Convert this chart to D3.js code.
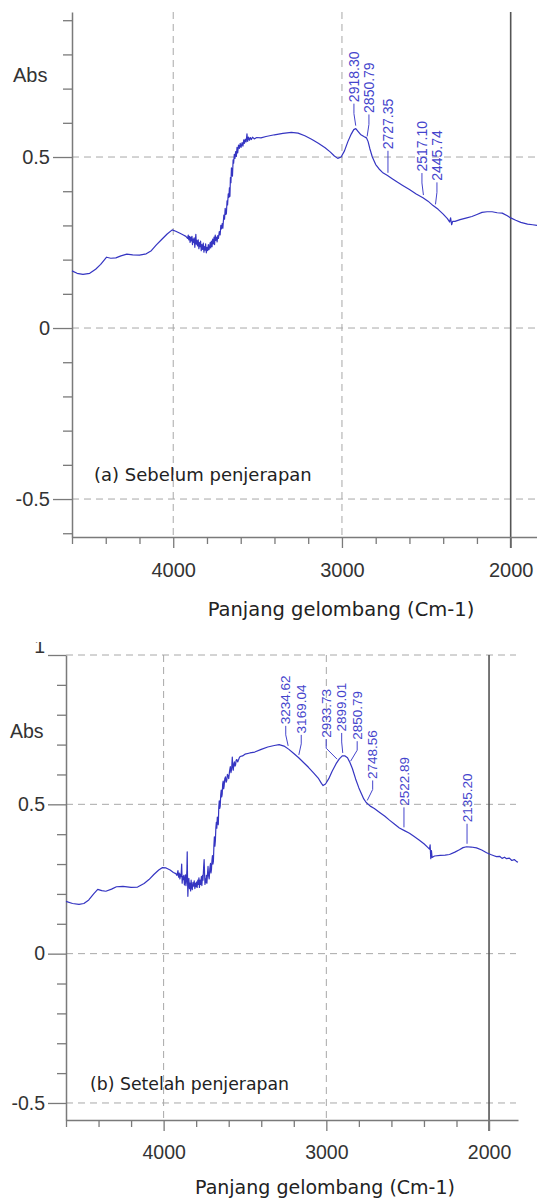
<!DOCTYPE html>
<html>
<head>
<meta charset="utf-8">
<script src="https://cdn.jsdelivr.net/npm/d3@7"></script>
<style>
  html, body { margin: 0; padding: 0; background: #fff; }
  svg { display: block; }
</style>
</head>
<body>
<div id="chart"></div>
<script>
// Wavenumber ticks (cm-1)
const waveMajor = [4000, 3000, 2000];
const waveMinor = [4600, 4400, 4200, 3800, 3600, 3400, 3200, 2800, 2600, 2400, 2200];

// Absorbance ticks
const absMajorTop = [-0.5, 0, 0.5];
const absMinorTop = [-0.6, -0.4, -0.3, -0.2, -0.1, 0.1, 0.2, 0.3, 0.4, 0.6, 0.7, 0.8, 0.9];
const absMajorBottom = [-0.5, 0, 0.5, 1];
const absMinorBottom = [-0.4, -0.3, -0.2, -0.1, 0.1, 0.2, 0.3, 0.4, 0.6, 0.7, 0.8, 0.9];

// (a) before adsorption: [wavenumber, absorbance]
const spectrumBefore = [
  [4600, 0.167], [4570, 0.160], [4535, 0.157], [4495, 0.160], [4460, 0.172], [4430, 0.186],
  [4395, 0.207], [4370, 0.204], [4340, 0.205], [4310, 0.211], [4275, 0.216], [4240, 0.214],
  [4200, 0.213], [4160, 0.217], [4130, 0.226], [4100, 0.243], [4070, 0.258], [4036, 0.275],
  [4006, 0.287], [3985, 0.283], [3960, 0.277], [3940, 0.272], [3925, 0.268], [3915, 0.262],
  [3911, 0.272], [3908, 0.258], [3904, 0.268], [3900, 0.250], [3896, 0.266], [3893, 0.255],
  [3889, 0.268], [3886, 0.244], [3883, 0.260], [3880, 0.250], [3876, 0.264], [3872, 0.236],
  [3869, 0.256], [3866, 0.274], [3863, 0.245], [3860, 0.256], [3856, 0.240], [3852, 0.258],
  [3848, 0.232], [3845, 0.250], [3841, 0.238], [3838, 0.254], [3834, 0.226], [3830, 0.244],
  [3826, 0.230], [3822, 0.248], [3818, 0.222], [3815, 0.238], [3811, 0.228], [3808, 0.246],
  [3804, 0.220], [3800, 0.236], [3796, 0.226], [3792, 0.244], [3788, 0.229], [3785, 0.236],
  [3781, 0.250], [3778, 0.234], [3774, 0.254], [3770, 0.238], [3766, 0.260], [3762, 0.246],
  [3758, 0.266], [3755, 0.244], [3751, 0.272], [3748, 0.256], [3744, 0.266], [3740, 0.252],
  [3736, 0.270], [3732, 0.262], [3727, 0.282], [3722, 0.272], [3718, 0.300], [3714, 0.290],
  [3710, 0.305], [3706, 0.292], [3700, 0.330], [3696, 0.318], [3692, 0.350], [3688, 0.332],
  [3685, 0.335], [3681, 0.372], [3678, 0.360], [3674, 0.392], [3670, 0.382], [3667, 0.410],
  [3664, 0.385], [3661, 0.440], [3658, 0.425], [3655, 0.468], [3652, 0.462], [3649, 0.444],
  [3645, 0.492], [3642, 0.482], [3638, 0.508], [3634, 0.496], [3630, 0.516], [3626, 0.502],
  [3622, 0.528], [3618, 0.512], [3613, 0.535], [3608, 0.525], [3603, 0.540], [3598, 0.528],
  [3592, 0.542], [3587, 0.532], [3582, 0.550], [3578, 0.540], [3573, 0.552], [3568, 0.544],
  [3563, 0.568], [3559, 0.546], [3554, 0.558], [3548, 0.549], [3543, 0.557], [3537, 0.551],
  [3530, 0.558], [3520, 0.553], [3505, 0.557], [3480, 0.556], [3450, 0.560], [3400, 0.565],
  [3350, 0.569], [3300, 0.572], [3260, 0.570], [3220, 0.562], [3180, 0.552], [3140, 0.540],
  [3100, 0.527], [3070, 0.515], [3045, 0.503], [3025, 0.496], [3005, 0.500], [2985, 0.518],
  [2965, 0.545], [2945, 0.567], [2930, 0.580], [2918, 0.583], [2905, 0.575], [2890, 0.566],
  [2870, 0.560], [2855, 0.556], [2845, 0.545], [2835, 0.525], [2820, 0.500], [2800, 0.478],
  [2780, 0.465], [2760, 0.455], [2730, 0.446], [2700, 0.436], [2670, 0.426], [2640, 0.417],
  [2600, 0.405], [2560, 0.392], [2520, 0.381], [2490, 0.371], [2460, 0.358], [2430, 0.347],
  [2400, 0.333], [2375, 0.320], [2362, 0.310], [2356, 0.322], [2350, 0.302], [2344, 0.312],
  [2330, 0.312], [2300, 0.317], [2260, 0.322], [2230, 0.326], [2200, 0.332], [2170, 0.338],
  [2140, 0.340], [2110, 0.340], [2080, 0.337], [2050, 0.336], [2020, 0.328], [2000, 0.322],
  [1970, 0.315], [1940, 0.309], [1900, 0.304], [1870, 0.302], [1844, 0.300]
];

// (b) after adsorption: [wavenumber, absorbance]
const spectrumAfter = [
  [4600, 0.175], [4560, 0.168], [4520, 0.165], [4490, 0.168], [4460, 0.180], [4430, 0.200],
  [4405, 0.215], [4380, 0.211], [4355, 0.209], [4320, 0.216], [4290, 0.224], [4250, 0.225],
  [4200, 0.222], [4160, 0.223], [4120, 0.235], [4090, 0.248], [4060, 0.265], [4030, 0.280],
  [4009, 0.288], [3985, 0.287], [3960, 0.280], [3940, 0.272], [3925, 0.268], [3918, 0.262],
  [3912, 0.278], [3908, 0.256], [3904, 0.270], [3900, 0.250], [3896, 0.266], [3893, 0.258],
  [3889, 0.300], [3886, 0.236], [3883, 0.258], [3880, 0.248], [3876, 0.262], [3872, 0.230],
  [3869, 0.250], [3866, 0.264], [3863, 0.228], [3860, 0.242], [3857, 0.280], [3855, 0.341],
  [3853, 0.250], [3851, 0.192], [3848, 0.238], [3845, 0.252], [3841, 0.218], [3838, 0.236],
  [3834, 0.210], [3831, 0.246], [3827, 0.222], [3824, 0.214], [3820, 0.238], [3816, 0.226],
  [3812, 0.244], [3808, 0.218], [3804, 0.236], [3800, 0.224], [3797, 0.240], [3794, 0.222],
  [3790, 0.246], [3787, 0.232], [3783, 0.254], [3780, 0.222], [3776, 0.246], [3772, 0.232],
  [3768, 0.258], [3765, 0.228], [3761, 0.262], [3758, 0.246], [3754, 0.290], [3751, 0.315],
  [3748, 0.262], [3746, 0.232], [3743, 0.250], [3740, 0.238], [3737, 0.262], [3734, 0.236],
  [3730, 0.270], [3727, 0.292], [3724, 0.262], [3720, 0.250], [3716, 0.285], [3712, 0.302],
  [3709, 0.270], [3706, 0.282], [3703, 0.312], [3700, 0.328], [3697, 0.300], [3694, 0.310],
  [3691, 0.360], [3688, 0.391], [3685, 0.360], [3682, 0.378], [3679, 0.420], [3676, 0.440],
  [3673, 0.420], [3670, 0.457], [3667, 0.446], [3664, 0.432], [3661, 0.490], [3658, 0.512],
  [3655, 0.486], [3652, 0.495], [3649, 0.532], [3646, 0.548], [3643, 0.525], [3640, 0.534],
  [3637, 0.568], [3634, 0.578], [3631, 0.552], [3628, 0.562], [3624, 0.586], [3620, 0.592],
  [3616, 0.574], [3612, 0.580], [3608, 0.600], [3604, 0.596], [3600, 0.586], [3595, 0.610],
  [3590, 0.626], [3586, 0.606], [3582, 0.618], [3578, 0.658], [3575, 0.628], [3572, 0.614],
  [3568, 0.636], [3565, 0.642], [3561, 0.628], [3558, 0.632], [3554, 0.648], [3550, 0.650],
  [3545, 0.642], [3540, 0.648], [3535, 0.656], [3530, 0.660], [3515, 0.662], [3500, 0.668],
  [3470, 0.672], [3440, 0.675], [3400, 0.684], [3360, 0.692], [3320, 0.697], [3290, 0.700],
  [3260, 0.695], [3230, 0.684], [3200, 0.670], [3170, 0.656], [3140, 0.640], [3110, 0.624],
  [3080, 0.606], [3050, 0.588], [3030, 0.570], [3020, 0.563], [3005, 0.568], [2985, 0.586],
  [2965, 0.610], [2940, 0.636], [2920, 0.652], [2902, 0.662], [2885, 0.662], [2870, 0.656],
  [2855, 0.640], [2840, 0.620], [2820, 0.585], [2800, 0.555], [2785, 0.536], [2770, 0.518],
  [2755, 0.506], [2730, 0.494], [2705, 0.486], [2670, 0.472], [2640, 0.460], [2612, 0.447],
  [2580, 0.433], [2551, 0.421], [2520, 0.412], [2489, 0.403], [2460, 0.392], [2428, 0.380],
  [2400, 0.368], [2375, 0.355], [2366, 0.350], [2362, 0.364], [2358, 0.318], [2354, 0.345],
  [2350, 0.322], [2335, 0.327], [2300, 0.329], [2270, 0.330], [2243, 0.332], [2210, 0.340],
  [2182, 0.348], [2160, 0.355], [2138, 0.358], [2110, 0.357], [2077, 0.354], [2045, 0.347],
  [2015, 0.338], [1990, 0.332], [1970, 0.328], [1954, 0.325], [1935, 0.326], [1920, 0.319],
  [1905, 0.323], [1892, 0.318], [1875, 0.320], [1860, 0.312], [1845, 0.315], [1830, 0.308],
  [1822, 0.306]
];

// Marked peaks
const peaksBefore = [2918.30, 2850.79, 2727.35, 2517.10, 2445.74];
const peaksAfter = [3234.62, 3169.04, 2933.73, 2899.01, 2850.79, 2748.56, 2522.89, 2135.20];

const xTitle = 'Panjang gelombang (Cm-1)';
const yTitle = 'Abs';

const W = 537, H = 1198;
const svg = d3.select('#chart').append('svg')
  .attr('width', W)
  .attr('height', H)
  .attr('viewBox', `0 0 ${W} ${H}`);

const tickFont = "'Liberation Sans', Arial, sans-serif";
const textFont = "'DejaVu Sans', Verdana, sans-serif";
const lineColor = '#3535c2';
const peakColor = '#4444cc';

// spread label x positions so they keep a minimum gap
function spreadLabels(xs, gap) {
  let groups = xs.map(v => ({ xs: [v], start: v }));
  let merged = true;
  while (merged) {
    merged = false;
    for (let i = 0; i < groups.length - 1; i++) {
      const a = groups[i], b = groups[i + 1];
      const aEnd = a.start + (a.xs.length - 1) * gap;
      if (b.start - aEnd < gap) {
        const all = a.xs.concat(b.xs);
        groups.splice(i, 2, { xs: all, start: d3.mean(all) - (all.length - 1) * gap / 2 });
        merged = true;
        break;
      }
    }
  }
  return groups.flatMap(g => g.xs.map((_, j) => g.start + j * gap));
}

function drawPanel(p) {
  const g = svg.append('g');

  if (p.clipTop != null) {
    const id = 'clip-' + p.name;
    svg.append('clipPath').attr('id', id)
      .append('rect').attr('x', 0).attr('y', p.clipTop).attr('width', W).attr('height', H - p.clipTop);
    g.attr('clip-path', `url(#${id})`);
  }

  const x = d3.scaleLinear().domain(p.xDomain).range([p.left, p.right]);
  const y = d3.scaleLinear().domain(p.yDomain).range([p.bottom, p.top]);

  // dashed grid
  g.append('g').selectAll('line')
    .data(waveMajor.filter(d => d !== 2000))
    .join('line')
    .attr('x1', d => x(d)).attr('x2', d => x(d))
    .attr('y1', p.top).attr('y2', p.bottom)
    .attr('stroke', '#a8a8a8').attr('stroke-width', 1)
    .attr('stroke-dasharray', '7,5');

  g.append('g').selectAll('line')
    .data(p.absMajor)
    .join('line')
    .attr('x1', p.left).attr('x2', p.gridRight)
    .attr('y1', d => y(d)).attr('y2', d => y(d))
    .attr('stroke', '#a8a8a8').attr('stroke-width', 1)
    .attr('stroke-dasharray', '7,5');

  // solid line at 2000
  g.append('line')
    .attr('x1', x(2000)).attr('x2', x(2000))
    .attr('y1', p.top).attr('y2', p.bottom + 11)
    .attr('stroke', '#555').attr('stroke-width', 1.6);

  const styleAxis = sel => {
    sel.select('.domain').attr('stroke', '#7a7a7a').attr('stroke-width', 1.5);
    sel.selectAll('.tick line').attr('stroke', '#7a7a7a').attr('stroke-width', 1.3);
    sel.selectAll('text')
      .attr('fill', '#333')
      .style('font-family', tickFont)
      .style('font-size', p.tickSize + 'px');
  };

  // Y axis
  g.append('g')
    .attr('transform', `translate(${p.left},0)`)
    .call(d3.axisLeft(y).tickValues(p.absMinor).tickSize(9).tickSizeOuter(0).tickFormat(''))
    .call(styleAxis);

  const yAx = g.append('g')
    .attr('transform', `translate(${p.left},0)`)
    .call(d3.axisLeft(y).tickValues(p.absMajor).tickSize(p.yMajorLen).tickSizeOuter(0)
      .tickPadding(3).tickFormat(d => String(d)))
    .call(styleAxis);
  yAx.select('.domain').remove();
  yAx.selectAll('.tick').filter(d => d === 1).select('text').attr('dy', '-0.12em');

  // X axis
  g.append('g')
    .attr('transform', `translate(0,${p.bottom})`)
    .call(d3.axisBottom(x).tickValues(waveMinor).tickSize(7).tickSizeOuter(0).tickFormat(''))
    .call(styleAxis);

  const xAx = g.append('g')
    .attr('transform', `translate(0,${p.bottom})`)
    .call(d3.axisBottom(x).tickValues(waveMajor).tickSize(11).tickSizeOuter(0)
      .tickPadding(p.xPad).tickFormat(d => String(d)))
    .call(styleAxis);
  xAx.select('.domain').remove();

  // axis titles
  g.append('text')
    .attr('x', p.absX).attr('y', p.absY)
    .attr('fill', '#333')
    .style('font-family', tickFont)
    .style('font-size', p.tickSize + 'px')
    .text(yTitle);

  g.append('text')
    .attr('x', p.titleX).attr('y', p.titleY)
    .attr('text-anchor', 'middle')
    .attr('fill', '#222')
    .style('font-family', textFont)
    .style('font-size', p.titleSize + 'px')
    .text(xTitle);

  g.append('text')
    .attr('x', p.noteX).attr('y', p.noteY)
    .attr('fill', '#222')
    .style('font-family', textFont)
    .style('font-size', p.noteSize + 'px')
    .text(p.note);

  // spectrum
  const line = d3.line()
    .x(d => x(d[0]))
    .y(d => y(d[1]));

  g.append('path')
    .datum(p.data)
    .attr('d', line)
    .attr('fill', 'none')
    .attr('stroke', lineColor)
    .attr('stroke-width', 1.2)
    .attr('stroke-linejoin', 'round');

  // peak labels
  const bis = d3.bisector(d => -d[0]).left;
  const valueAt = wn => {
    const i = Math.max(1, Math.min(p.data.length - 1, bis(p.data, -wn)));
    const a = p.data[i - 1], b = p.data[i];
    const t = (wn - a[0]) / (b[0] - a[0]);
    return a[1] + t * (b[1] - a[1]);
  };

  const px = p.peaks.map(d => x(d));
  const tx = spreadLabels(px, p.labelGap);

  const pk = g.append('g');
  p.peaks.forEach((d, i) => {
    const yc = y(valueAt(d));
    const bottom = yc - p.leadGap;
    const top = bottom - p.leadLen;
    const path = Math.abs(tx[i] - px[i]) > 1
      ? `M${tx[i]},${top}L${tx[i]},${top + p.leadLen * 0.45}L${px[i]},${bottom}`
      : `M${px[i]},${top}L${px[i]},${bottom}`;
    pk.append('path')
      .attr('d', path)
      .attr('fill', 'none')
      .attr('stroke', peakColor)
      .attr('stroke-width', 1);
    pk.append('text')
      .attr('transform', `translate(${tx[i]},${top - 1.5}) rotate(-90)`)
      .attr('dy', '0.35em')
      .attr('fill', peakColor)
      .style('font-family', tickFont)
      .style('font-size', p.peakSize + 'px')
      .text(d.toFixed(2));
  });
}

drawPanel({
  name: 'top',
  data: spectrumBefore,
  peaks: peaksBefore,
  absMajor: absMajorTop,
  absMinor: absMinorTop,
  xDomain: [4600, 1844],
  yDomain: [-0.611, 0.924],
  left: 72, right: 537, top: 12, bottom: 537, gridRight: 537,
  yMajorLen: 19,
  tickSize: 20, xPad: 15,
  absX: 13, absY: 82,
  titleX: 341, titleY: 616, titleSize: 19.5,
  note: '(a) Sebelum penjerapan', noteX: 94, noteY: 481, noteSize: 18,
  peakSize: 14, labelGap: 15, leadGap: 3, leadLen: 22
});

drawPanel({
  name: 'bottom',
  clipTop: 642,
  data: spectrumAfter,
  peaks: peaksAfter,
  absMajor: absMajorBottom,
  absMinor: absMinorBottom,
  xDomain: [4600, 1822],
  yDomain: [-0.557, 1.0],
  left: 66, right: 518, top: 655, bottom: 1120, gridRight: 516,
  yMajorLen: 18,
  tickSize: 19.5, xPad: 14,
  absX: 10, absY: 738,
  titleX: 325, titleY: 1194, titleSize: 19,
  note: '(b) Setelah penjerapan', noteX: 90, noteY: 1090, noteSize: 17.3,
  peakSize: 13.5, labelGap: 15.5, leadGap: 3, leadLen: 20
});
</script>
</body>
</html>
